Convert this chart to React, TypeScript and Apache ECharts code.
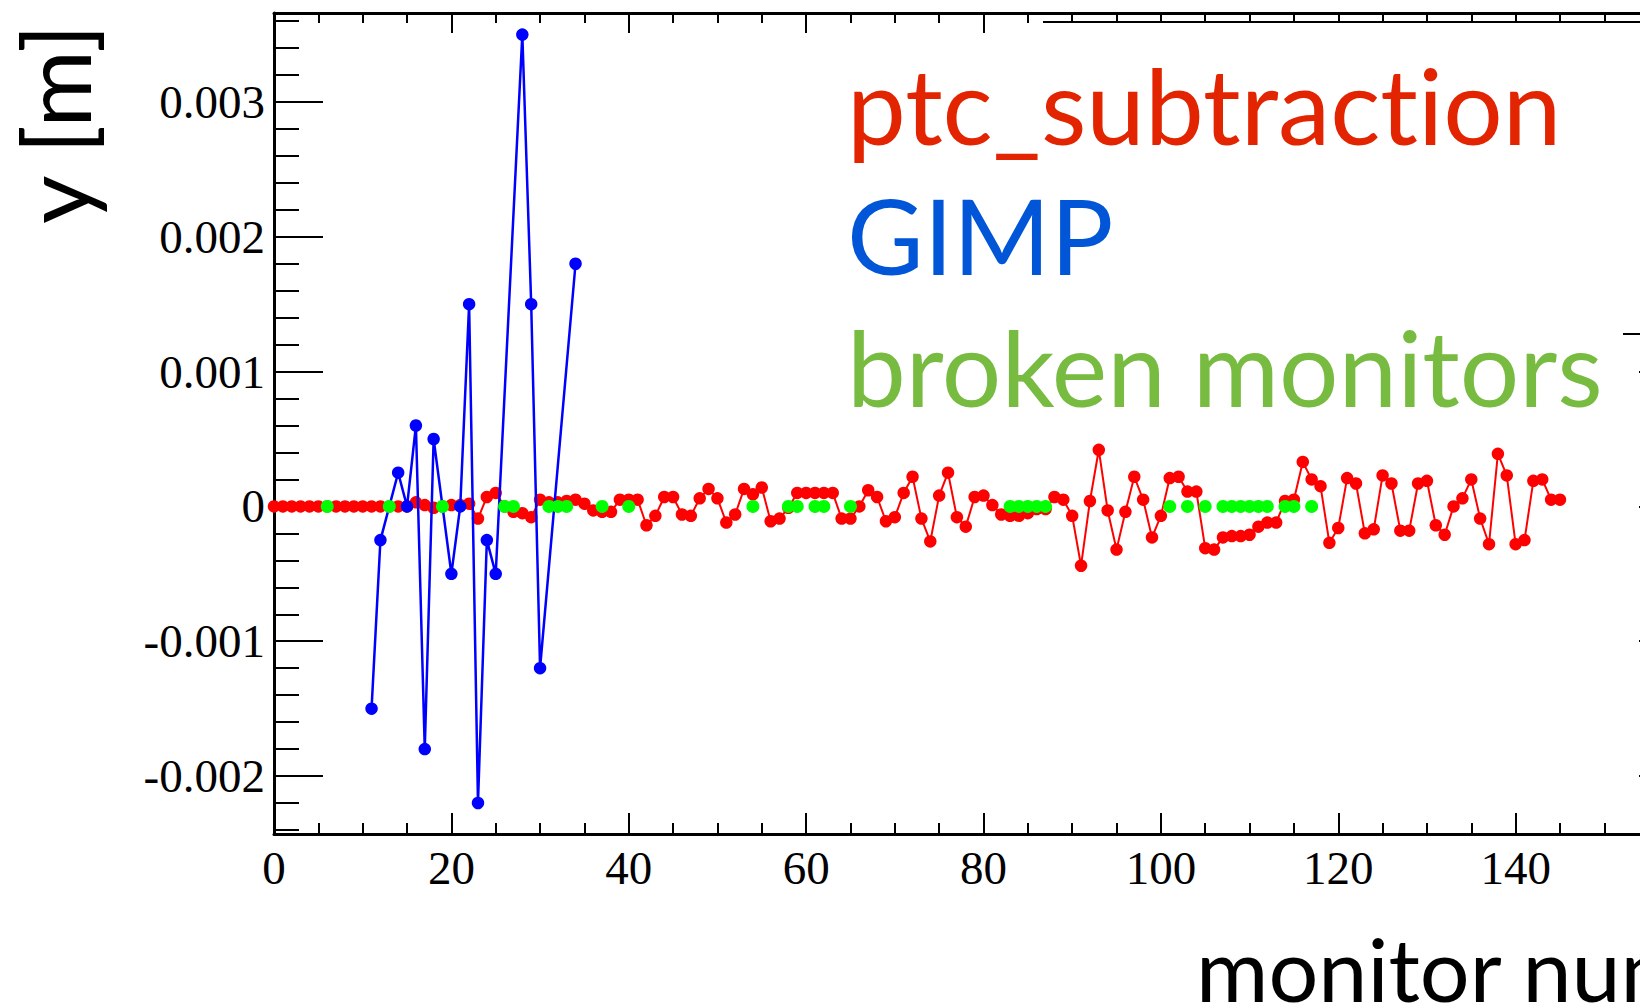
import React, { useEffect, useRef } from "react";
import * as echarts from "echarts";

// ptc_subtraction: y [m] for monitor number 0..145
const ptcSubtractionY = [
  0, 0, 0, 0, 0, 0, 0, 0, 0, 0,
  0, 0, 0, 0, 0, 0, 0.00003, 0.00001, -0.00001, 0,
  0.00001, 0.00001, 0.00002, -0.00009, 0.00007, 0.0001, 0, -0.00004, -0.00005, -0.00008,
  0.00005, 0.00003, 0.00003, 0.00004, 0.00005, 0.00002, -0.00003, -0.00004, -0.00004, 0.00005,
  0.00005, 0.00005, -0.00014, -0.00007, 0.00007, 0.00007, -0.00006, -0.00007, 0.00006, 0.00013,
  0.00006, -0.00012, -0.00006, 0.00013, 0.00009, 0.00014, -0.00011, -0.00009, -0.00001, 0.0001,
  0.0001, 0.0001, 0.0001, 0.0001, -0.00009, -0.00009, 0, 0.00012, 0.00007, -0.00011,
  -0.00008, 0.0001, 0.00022, -0.00009, -0.00026, 0.00008, 0.00025, -0.00008, -0.00015, 0.00007,
  0.00008, 0.00001, -0.00006, -0.00007, -0.00007, -0.00005, -0.00002, -0.00002, 0.00007, 0.00005,
  -0.00007, -0.00044, 0.00004, 0.00042, -0.00003, -0.00032, -0.00004, 0.00022, 0.00005, -0.00023,
  -0.00007, 0.00021, 0.00022, 0.00011, 0.00011, -0.00031, -0.00032, -0.00023, -0.00022, -0.00022,
  -0.00021, -0.00015, -0.00012, -0.00012, 0.00004, 0.00005, 0.00033, 0.0002, 0.00015, -0.00027,
  -0.00016, 0.00021, 0.00017, -0.0002, -0.00017, 0.00023, 0.00017, -0.00018, -0.00018, 0.00017,
  0.00019, -0.00014, -0.00021, 0, 0.00006, 0.0002, -0.00009, -0.00028, 0.00039, 0.00023,
  -0.00028, -0.00025, 0.00019, 0.0002, 0.00005, 0.00005,
];

// GIMP
const gimpX = [11, 12, 14, 15, 16, 17, 18, 20, 21, 22, 23, 24, 25, 28, 29, 30, 34];
const gimpY = [
  -0.0015, -0.00025, 0.00025, 0, 0.0006, -0.0018, 0.0005, -0.0005, 0, 0.0015,
  -0.0022, -0.00025, -0.0005, 0.0035, 0.0015, -0.0012, 0.0018,
];

// broken monitors (drawn at y = 0)
const brokenMonitors = [
  6, 13, 19, 26, 27, 31, 32, 33, 37, 40, 54, 58, 59, 61, 62, 65,
  83, 84, 85, 86, 87, 101, 103, 105, 107, 108, 109, 110, 111, 112, 114, 115, 117,
];
const brokenY = 0;

// axes
const xMin = 0;
const xMax = 160;
const yMin = -0.00243;
const yMax = 0.00366;
const xMajorTicks = [0, 20, 40, 60, 80, 100, 120, 140, 160];
const xTickLabels = [0, 20, 40, 60, 80, 100, 120, 140];
const xMinorTicks = [
  0, 5, 10, 15, 20, 25, 30, 35, 40, 45, 50, 55, 60, 65, 70, 75, 80,
  85, 90, 95, 100, 105, 110, 115, 120, 125, 130, 135, 140, 145, 150, 155, 160,
];
const yMajorTicks = [-0.002, -0.001, 0, 0.001, 0.002, 0.003];
const yMajorLabels = ["-0.002", "-0.001", "0", "0.001", "0.002", "0.003"];
const yMinorTicks = [
  -0.0024, -0.0022, -0.002, -0.0018, -0.0016, -0.0014, -0.0012, -0.001, -0.0008,
  -0.0006, -0.0004, -0.0002, 0, 0.0002, 0.0004, 0.0006, 0.0008, 0.001, 0.0012,
  0.0014, 0.0016, 0.0018, 0.002, 0.0022, 0.0024, 0.0026, 0.0028, 0.003, 0.0032,
  0.0034, 0.0036,
];

const legendLabels = ["ptc_subtraction", "GIMP", "broken monitors"];
const legendColors = ["#e32400", "#0056d6", "#77bb41"];
const xTitle = "monitor number";
const yTitle = "y [m]";

const tickFont = "Liberation Serif";
const titleFont = "Lato";

export default function App() {
  const ref = useRef<HTMLDivElement>(null);

  useEffect(() => {
    if (!ref.current) return;
    const chart = echarts.init(ref.current, undefined, { renderer: "svg" });

    const axisBlack = { color: "#000" };
    const hidden = { show: false };

    const xAxisBase = {
      type: "value" as const,
      min: xMin,
      max: xMax,
      splitLine: hidden,
    };
    const yAxisBase = {
      type: "value" as const,
      min: yMin,
      max: yMax,
      splitLine: hidden,
    };

    const option: any = {
      animation: false,
      backgroundColor: "#fff",
      grid: { left: 274, right: 67, top: 13, bottom: 172, containLabel: false },
      xAxis: [
        {
          ...xAxisBase,
          position: "bottom",
          axisLine: { show: true, onZero: false, lineStyle: { ...axisBlack, width: 3 } },
          axisTick: { show: true, inside: true, length: 21, customValues: xMajorTicks, lineStyle: { ...axisBlack, width: 2 } },
          axisLabel: { show: true, customValues: xTickLabels, fontFamily: tickFont, fontSize: 47, color: "#000", margin: 10 },
        },
        {
          ...xAxisBase,
          position: "bottom",
          axisLine: { show: false, onZero: false },
          axisTick: { show: true, inside: true, length: 11, customValues: xMinorTicks, lineStyle: { ...axisBlack, width: 2 } },
          axisLabel: hidden,
        },
        {
          ...xAxisBase,
          position: "top",
          axisLine: { show: true, onZero: false, lineStyle: { ...axisBlack, width: 3 } },
          axisTick: { show: true, inside: true, length: 20, customValues: xMajorTicks, lineStyle: { ...axisBlack, width: 2 } },
          axisLabel: hidden,
        },
        {
          ...xAxisBase,
          position: "top",
          axisLine: { show: false, onZero: false },
          axisTick: { show: true, inside: true, length: 10, customValues: xMinorTicks, lineStyle: { ...axisBlack, width: 2 } },
          axisLabel: hidden,
        },
      ],
      yAxis: [
        {
          ...yAxisBase,
          position: "left",
          axisLine: { show: true, onZero: false, lineStyle: { ...axisBlack, width: 3 } },
          axisTick: { show: true, inside: true, length: 49, customValues: yMajorTicks, lineStyle: { ...axisBlack, width: 2 } },
          axisLabel: {
            show: true,
            customValues: yMajorTicks,
            fontFamily: tickFont,
            fontSize: 47,
            color: "#000",
            margin: 9,
            formatter: (v: number) => {
              const k = yMajorTicks.findIndex((t) => Math.abs(t - v) < 1e-9);
              return k >= 0 ? yMajorLabels[k] : String(v);
            },
          },
        },
        {
          ...yAxisBase,
          position: "left",
          axisLine: { show: false, onZero: false },
          axisTick: { show: true, inside: true, length: 25, customValues: yMinorTicks, lineStyle: { ...axisBlack, width: 2 } },
          axisLabel: hidden,
        },
        {
          ...yAxisBase,
          position: "right",
          axisLine: { show: true, onZero: false, lineStyle: { ...axisBlack, width: 3 } },
          axisTick: { show: true, inside: true, length: 54, customValues: yMajorTicks, lineStyle: { ...axisBlack, width: 2 } },
          axisLabel: hidden,
        },
      ],
      series: [
        {
          name: legendLabels[0],
          type: "line",
          xAxisIndex: 0,
          yAxisIndex: 0,
          data: ptcSubtractionY.map((y, i) => [i, y]),
          symbol: "circle",
          symbolSize: 12.5,
          itemStyle: { color: "#ff0000" },
          lineStyle: { color: "#ff0000", width: 2 },
          z: 2,
        },
        {
          name: legendLabels[1],
          type: "line",
          xAxisIndex: 0,
          yAxisIndex: 0,
          data: gimpX.map((x, i) => [x, gimpY[i]]),
          symbol: "circle",
          symbolSize: 12.5,
          itemStyle: { color: "#0000ff" },
          lineStyle: { color: "#0000ff", width: 2.5 },
          z: 3,
        },
        {
          name: legendLabels[2],
          type: "scatter",
          xAxisIndex: 0,
          yAxisIndex: 0,
          data: brokenMonitors.map((m) => [m, brokenY]),
          symbol: "circle",
          symbolSize: 13,
          itemStyle: { color: "#00ff00", opacity: 1 },
          z: 4,
        },
      ],
      graphic: [
        {
          type: "rect",
          z: 100,
          shape: { x: 1043, y: 23, width: 720, height: 310 },
          style: { fill: "#fff" },
        },
        {
          type: "line",
          z: 101,
          shape: { x1: 1043, y1: 22, x2: 1760, y2: 22 },
          style: { stroke: "#000", lineWidth: 2 },
        },
        {
          type: "line",
          z: 101,
          shape: { x1: 1623, y1: 334, x2: 1760, y2: 334 },
          style: { stroke: "#000", lineWidth: 2 },
        },
        {
          type: "text",
          z: 102,
          x: 847,
          y: 104,
          style: { text: legendLabels[0], fill: legendColors[0], fontSize: 105, fontFamily: titleFont, verticalAlign: "middle", align: "left" },
        },
        {
          type: "text",
          z: 102,
          x: 847,
          y: 234,
          style: { text: legendLabels[1], fill: legendColors[1], fontSize: 105, fontFamily: titleFont, verticalAlign: "middle", align: "left" },
        },
        {
          type: "text",
          z: 102,
          x: 847,
          y: 366,
          style: { text: legendLabels[2], fill: legendColors[2], fontSize: 105, fontFamily: titleFont, verticalAlign: "middle", align: "left" },
        },
        {
          type: "text",
          z: 102,
          x: 1196,
          y: 968,
          style: { text: xTitle, fill: "#000", fontSize: 88, fontFamily: titleFont, verticalAlign: "middle", align: "left" },
        },
        {
          type: "text",
          z: 102,
          x: 54,
          y: 124,
          rotation: Math.PI / 2,
          style: { text: yTitle, fill: "#000", fontSize: 94, fontFamily: titleFont, verticalAlign: "middle", align: "center" },
        },
      ],
    };

    chart.setOption(option);
    return () => chart.dispose();
  }, []);

  return (
    <div
      style={{
        position: "fixed",
        left: 0,
        top: 0,
        width: 1640,
        height: 1006,
        overflow: "hidden",
        background: "#fff",
        fontVariantLigatures: "none",
      }}
    >
      <div ref={ref} style={{ width: 1760, height: 1006 }} />
    </div>
  );
}
